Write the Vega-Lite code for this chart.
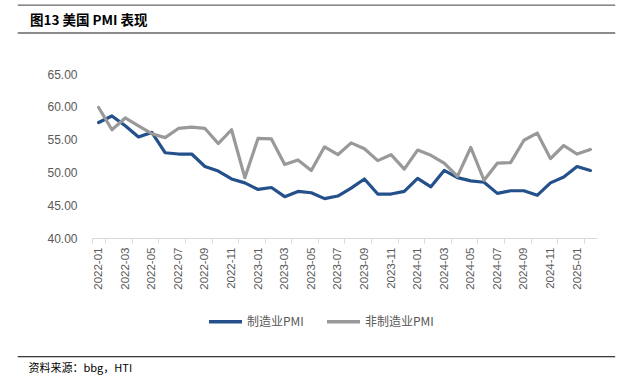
{
  "$schema": "https://vega.github.io/schema/vega-lite/v6.json",
  "width": 505,
  "height": 164,
  "autosize": {"type": "none"},
  "padding": {"left": 92, "top": 74, "right": 31, "bottom": 150},
  "background": "white",
  "title": {
    "text": "图13 美国 PMI 表现",
    "anchor": "start",
    "frame": "group",
    "dx": -62,
    "offset": 0,
    "dy": 34,
    "baseline": "alphabetic",
    "fontSize": 13.5,
    "font": "Noto Sans CJK SC",
    "fontWeight": "bold",
    "color": "#000000"
  },
  "config": {
    "view": {"stroke": null},
    "axis": {"labelFont": "Liberation Sans", "labelColor": "#595959", "grid": false},
    "axisY": {"domain": false, "ticks": false, "labelOverlap": false, "labelPadding": 15, "labelFontSize": 12, "title": null}
  },
  "datasets": {
    "pmi": [
      {"month": "2022-01", "series": "制造业PMI", "value": 57.6},
      {"month": "2022-02", "series": "制造业PMI", "value": 58.6},
      {"month": "2022-03", "series": "制造业PMI", "value": 57.1},
      {"month": "2022-04", "series": "制造业PMI", "value": 55.4},
      {"month": "2022-05", "series": "制造业PMI", "value": 56.1},
      {"month": "2022-06", "series": "制造业PMI", "value": 53.0},
      {"month": "2022-07", "series": "制造业PMI", "value": 52.8},
      {"month": "2022-08", "series": "制造业PMI", "value": 52.8},
      {"month": "2022-09", "series": "制造业PMI", "value": 50.9},
      {"month": "2022-10", "series": "制造业PMI", "value": 50.2},
      {"month": "2022-11", "series": "制造业PMI", "value": 49.0},
      {"month": "2022-12", "series": "制造业PMI", "value": 48.4},
      {"month": "2023-01", "series": "制造业PMI", "value": 47.4},
      {"month": "2023-02", "series": "制造业PMI", "value": 47.7},
      {"month": "2023-03", "series": "制造业PMI", "value": 46.3},
      {"month": "2023-04", "series": "制造业PMI", "value": 47.1},
      {"month": "2023-05", "series": "制造业PMI", "value": 46.9},
      {"month": "2023-06", "series": "制造业PMI", "value": 46.0},
      {"month": "2023-07", "series": "制造业PMI", "value": 46.4},
      {"month": "2023-08", "series": "制造业PMI", "value": 47.6},
      {"month": "2023-09", "series": "制造业PMI", "value": 49.0},
      {"month": "2023-10", "series": "制造业PMI", "value": 46.7},
      {"month": "2023-11", "series": "制造业PMI", "value": 46.7},
      {"month": "2023-12", "series": "制造业PMI", "value": 47.1},
      {"month": "2024-01", "series": "制造业PMI", "value": 49.1},
      {"month": "2024-02", "series": "制造业PMI", "value": 47.8},
      {"month": "2024-03", "series": "制造业PMI", "value": 50.3},
      {"month": "2024-04", "series": "制造业PMI", "value": 49.2},
      {"month": "2024-05", "series": "制造业PMI", "value": 48.7},
      {"month": "2024-06", "series": "制造业PMI", "value": 48.5},
      {"month": "2024-07", "series": "制造业PMI", "value": 46.8},
      {"month": "2024-08", "series": "制造业PMI", "value": 47.2},
      {"month": "2024-09", "series": "制造业PMI", "value": 47.2},
      {"month": "2024-10", "series": "制造业PMI", "value": 46.5},
      {"month": "2024-11", "series": "制造业PMI", "value": 48.4},
      {"month": "2024-12", "series": "制造业PMI", "value": 49.3},
      {"month": "2025-01", "series": "制造业PMI", "value": 50.9},
      {"month": "2025-02", "series": "制造业PMI", "value": 50.3},
      {"month": "2022-01", "series": "非制造业PMI", "value": 59.9},
      {"month": "2022-02", "series": "非制造业PMI", "value": 56.5},
      {"month": "2022-03", "series": "非制造业PMI", "value": 58.3},
      {"month": "2022-04", "series": "非制造业PMI", "value": 57.1},
      {"month": "2022-05", "series": "非制造业PMI", "value": 55.9},
      {"month": "2022-06", "series": "非制造业PMI", "value": 55.3},
      {"month": "2022-07", "series": "非制造业PMI", "value": 56.7},
      {"month": "2022-08", "series": "非制造业PMI", "value": 56.9},
      {"month": "2022-09", "series": "非制造业PMI", "value": 56.7},
      {"month": "2022-10", "series": "非制造业PMI", "value": 54.4},
      {"month": "2022-11", "series": "非制造业PMI", "value": 56.5},
      {"month": "2022-12", "series": "非制造业PMI", "value": 49.2},
      {"month": "2023-01", "series": "非制造业PMI", "value": 55.2},
      {"month": "2023-02", "series": "非制造业PMI", "value": 55.1},
      {"month": "2023-03", "series": "非制造业PMI", "value": 51.2},
      {"month": "2023-04", "series": "非制造业PMI", "value": 51.9},
      {"month": "2023-05", "series": "非制造业PMI", "value": 50.3},
      {"month": "2023-06", "series": "非制造业PMI", "value": 53.9},
      {"month": "2023-07", "series": "非制造业PMI", "value": 52.7},
      {"month": "2023-08", "series": "非制造业PMI", "value": 54.5},
      {"month": "2023-09", "series": "非制造业PMI", "value": 53.6},
      {"month": "2023-10", "series": "非制造业PMI", "value": 51.8},
      {"month": "2023-11", "series": "非制造业PMI", "value": 52.7},
      {"month": "2023-12", "series": "非制造业PMI", "value": 50.5},
      {"month": "2024-01", "series": "非制造业PMI", "value": 53.4},
      {"month": "2024-02", "series": "非制造业PMI", "value": 52.6},
      {"month": "2024-03", "series": "非制造业PMI", "value": 51.4},
      {"month": "2024-04", "series": "非制造业PMI", "value": 49.4},
      {"month": "2024-05", "series": "非制造业PMI", "value": 53.8},
      {"month": "2024-06", "series": "非制造业PMI", "value": 48.8},
      {"month": "2024-07", "series": "非制造业PMI", "value": 51.4},
      {"month": "2024-08", "series": "非制造业PMI", "value": 51.5},
      {"month": "2024-09", "series": "非制造业PMI", "value": 54.9},
      {"month": "2024-10", "series": "非制造业PMI", "value": 56.0},
      {"month": "2024-11", "series": "非制造业PMI", "value": 52.1},
      {"month": "2024-12", "series": "非制造业PMI", "value": 54.1},
      {"month": "2025-01", "series": "非制造业PMI", "value": 52.8},
      {"month": "2025-02", "series": "非制造业PMI", "value": 53.5}
    ]
  },
  "layer": [
    {
      "data": {"name": "pmi"},
      "mark": {"type": "line", "strokeWidth": 3.2, "strokeJoin": "round", "strokeCap": "round"},
      "encoding": {
        "x": {
          "field": "month",
          "type": "ordinal",
          "sort": null,
          "scale": {"paddingInner": 0, "paddingOuter": 0},
          "axis": {
            "values": ["2022-01","2022-03","2022-05","2022-07","2022-09","2022-11","2023-01","2023-03","2023-05","2023-07","2023-09","2023-11","2024-01","2024-03","2024-05","2024-07","2024-09","2024-11","2025-01"],
            "labelAngle": 270,
            "labelFontSize": 11.5,
            "labelPadding": 4,
            "labelOverlap": false,
            "tickBand": "extent",
            "tickColor": "#d9d9d9",
            "tickSize": 5,
            "domainColor": "#d9d9d9",
            "title": "资料来源：bbg，HTI",
            "titleFont": "Noto Sans CJK SC",
            "titleFontSize": 11,
            "titleFontWeight": "normal",
            "titleColor": "#000000",
            "titleAnchor": "start",
            "titleAlign": "left",
            "titleBaseline": "middle",
            "titleX": -64,
            "titleY": 130
          }
        },
        "y": {
          "field": "value",
          "type": "quantitative",
          "scale": {"domain": [40, 65], "nice": false, "zero": false},
          "axis": {"values": [40, 45, 50, 55, 60, 65], "format": ".2f"}
        },
        "color": {
          "field": "series",
          "type": "nominal",
          "scale": {"domain": ["制造业PMI", "非制造业PMI"], "range": ["#24508B", "#999999"]},
          "legend": {
            "title": null,
            "orient": "none",
            "direction": "horizontal",
            "legendX": 115,
            "legendY": 229,
            "symbolType": "stroke",
            "symbolSize": 1089,
            "symbolStrokeWidth": 3.5,
            "labelFont": "Noto Sans CJK SC",
            "labelFontSize": 12,
            "labelColor": "#595959",
            "labelOffset": 3,
            "columnPadding": 16
          }
        }
      }
    },
    {
      "data": {"values": [{}]},
      "mark": {"type": "rule", "color": "#404040", "strokeWidth": 1},
      "encoding": {
        "x": {"datum": -0.147, "type": "quantitative", "scale": {"domain": [0, 1]}, "axis": null},
        "x2": {"datum": 1.036},
        "y": {"datum": 75.5, "type": "quantitative", "axis": {"values": [40, 45, 50, 55, 60, 65], "format": ".2f"}}
      }
    },
    {
      "data": {"values": [{}]},
      "mark": {"type": "rule", "color": "#8c8c8c", "strokeWidth": 2},
      "encoding": {
        "x": {"datum": -0.147, "type": "quantitative", "scale": {"domain": [0, 1]}, "axis": null},
        "x2": {"datum": 1.036},
        "y": {"datum": 71.25, "type": "quantitative", "axis": {"values": [40, 45, 50, 55, 60, 65], "format": ".2f"}}
      }
    },
    {
      "data": {"values": [{}]},
      "mark": {"type": "rule", "color": "#000000", "strokeWidth": 1},
      "encoding": {
        "x": {"datum": -0.147, "type": "quantitative", "scale": {"domain": [0, 1]}, "axis": null},
        "x2": {"datum": 1.036},
        "y": {"datum": 21.9, "type": "quantitative", "axis": {"values": [40, 45, 50, 55, 60, 65], "format": ".2f"}}
      }
    }
  ],
  "resolve": {"scale": {"x": "independent"}}
}
